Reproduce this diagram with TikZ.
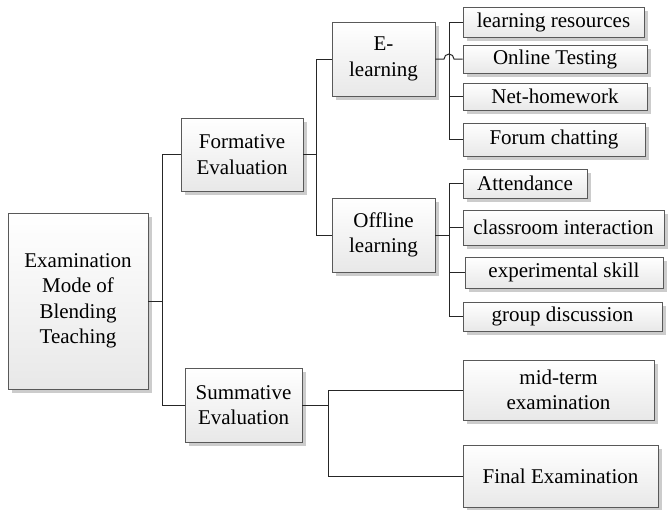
\documentclass[tikz,border=0pt]{standalone}
\usepackage{fontspec}
\setmainfont{Liberation Serif}
\usetikzlibrary{shadows}
\tikzset{
  box/.style={draw=black!65, line width=0.9pt, rectangle, inner sep=0pt,
    top color=white, bottom color=black!9, align=center,
    font=\fontsize{21}{25.5}\selectfont,
    drop shadow={shadow xshift=3.5pt, shadow yshift=-3.5pt, fill=black!20, opacity=1}},
  conn/.style={draw=black!85, line width=1pt}
}
\begin{document}
\begin{tikzpicture}[x=1pt,y=1pt]
\useasboundingbox (0,0) rectangle (668,-509);
% level 0
\node[box, minimum width=140, minimum height=176] (main) at (78,-301) {Examination\\Mode of\\Blending\\Teaching};
% level 1
\node[box, minimum width=122, minimum height=73] (form) at (242,-154.5) {Formative\\Evaluation};
\node[box, minimum width=117, minimum height=74] (summ) at (243.5,-405) {Summative\\Evaluation};
% level 2
\node[box, minimum width=103, minimum height=74] (elearn) at (383.5,-59) {E-\\learning};
\node[box, minimum width=103, minimum height=74] (offline) at (383.5,-235) {Offline\\learning};
% leaves e-learning
\node[box, minimum width=181, minimum height=30] (lr) at (553.5,-22) {learning resources};
\node[box, minimum width=184, minimum height=28] (ot) at (555,-59) {Online Testing};
\node[box, minimum width=184, minimum height=27] (nh) at (555,-96.5) {Net-homework};
\node[box, minimum width=182, minimum height=33] (fc) at (554,-139.5) {Forum chatting};
% leaves offline
\node[box, minimum width=124, minimum height=29] (att) at (525,-183.5) {Attendance};
\node[box, minimum width=201, minimum height=35] (ci) at (563.5,-227.5) {classroom interaction};
\node[box, minimum width=198, minimum height=31] (es) at (564,-272.5) {experimental skill};
\node[box, minimum width=199, minimum height=29] (gd) at (562.5,-316.5) {group discussion};
% leaves summative
\node[box, minimum width=191, minimum height=60] (mt) at (558.5,-390) {mid-term\\examination};
\node[box, minimum width=195, minimum height=62] (fe) at (560.5,-476) {Final Examination};
% junctions
\coordinate (j1) at (162.5,-301);
\coordinate (j2) at (316,-154.5);
\coordinate (j3) at (449,-59);
\coordinate (j4) at (449,-235);
\coordinate (j5) at (328,-405);
% connectors
\draw[conn] (main.east) -- (j1);
\draw[conn] (j1) |- (form.west);
\draw[conn] (j1) |- (summ.west);
\draw[conn] (form.east) -- (j2);
\draw[conn] (j2) |- (elearn.west);
\draw[conn] (j2) |- (offline.west);
\draw[conn] (j3) |- (lr.west);
\draw[conn] (j3) |- (nh.west);
\draw[conn] (j3) |- (fc.west);
\draw[conn] (elearn.east) -- ([xshift=-5pt]j3) arc (180:0:5) -- (ot.west);
\draw[conn] (offline.east) -- (j4);
\draw[conn] (j4) |- (att.west);
\draw[conn] (j4) |- (ci.west);
\draw[conn] (j4) |- (es.west);
\draw[conn] (j4) |- (gd.west);
\draw[conn] (summ.east) -- (j5);
\draw[conn] (j5) |- (mt.west);
\draw[conn] (j5) |- (fe.west);
\end{tikzpicture}
\end{document}
